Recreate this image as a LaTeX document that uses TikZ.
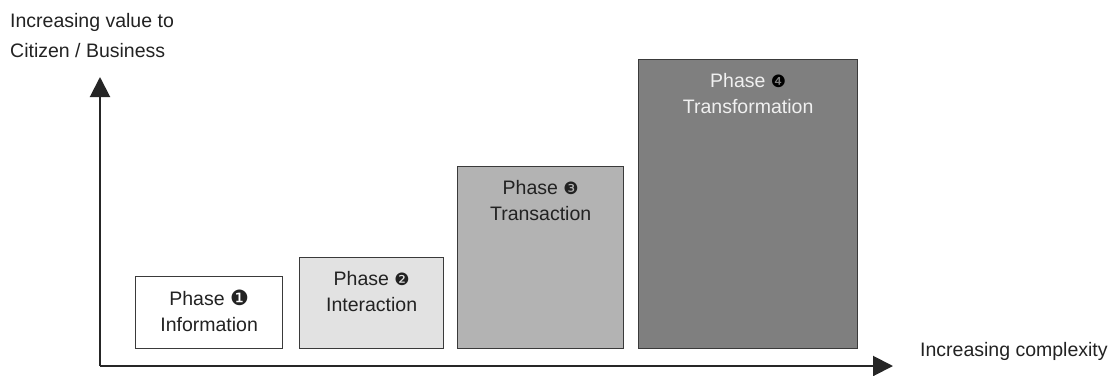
\documentclass[tikz,border=0pt]{standalone}
\usepackage{fontspec}
\setmainfont{Liberation Sans}
\newfontfamily\dingf{DejaVu Sans}
\usetikzlibrary{arrows.meta,calc}
\definecolor{txtc}{HTML}{222222}
\definecolor{edgec}{HTML}{3A3A3A}
\definecolor{fillb}{HTML}{E2E2E2}
\definecolor{fillc}{HTML}{B3B3B3}
\definecolor{filld}{HTML}{7F7F7F}
\newcommand{\dnum}[2]{{\dingf\fontsize{#1}{#1}\selectfont #2}}
\tikzset{
  phasebox/.style={draw=edgec, line width=1.3pt, anchor=north west, inner sep=0pt},
  phasetxt/.style={text=txtc, align=center, inner sep=0pt, font=\fontsize{19.5}{26}\selectfont},
  axislbl/.style={text=txtc, align=left, inner sep=0pt, anchor=west, font=\fontsize{19.5}{30}\selectfont},
  axisline/.style={draw=black!85, line width=2pt, -{Triangle[length=20pt,width=20pt]}}
}
\begin{document}
\begin{tikzpicture}[x=1pt,y=-1pt]
\useasboundingbox (0,0) rectangle (1115,375);
% boxes
\node[phasebox, fill=white, minimum width=147pt, minimum height=72pt] (b1) at (135,276) {};
\node[phasebox, fill=fillb, minimum width=144pt, minimum height=91pt] (b2) at (299,257) {};
\node[phasebox, fill=fillc, minimum width=166pt, minimum height=182pt] (b3) at (457,166) {};
\node[phasebox, fill=filld, minimum width=219pt, minimum height=289pt] (b4) at (638,59) {};
% texts
\node[phasetxt] (t1) at ([yshift=-35pt]b1.north) {Phase \dnum{21}{❶}\\Information};
\node[phasetxt] (t2) at ([yshift=-35pt]b2.north) {Phase \dnum{17}{❷}\\Interaction};
\node[phasetxt] (t3) at ([yshift=-35pt]b3.north) {Phase \dnum{17}{❸}\\Transaction};
\node[phasetxt, text=white!94!black] (t4) at ([yshift=-35pt]b4.north) {Phase {\color{black}\dnum{17}{❹}}\\Transformation};
% axes
\coordinate (o) at (100,366);
\coordinate (ytip) at (100,77);
\coordinate (xtip) at (893,366);
\draw[axisline] (o) -- (ytip);
\draw[axisline] (o) -- (xtip);
\node[axislbl] (ylab) at (10,36) {Increasing value to\\Citizen / Business};
\node[axislbl] (xlab) at (920,351) {Increasing complexity};
\end{tikzpicture}
\end{document}
